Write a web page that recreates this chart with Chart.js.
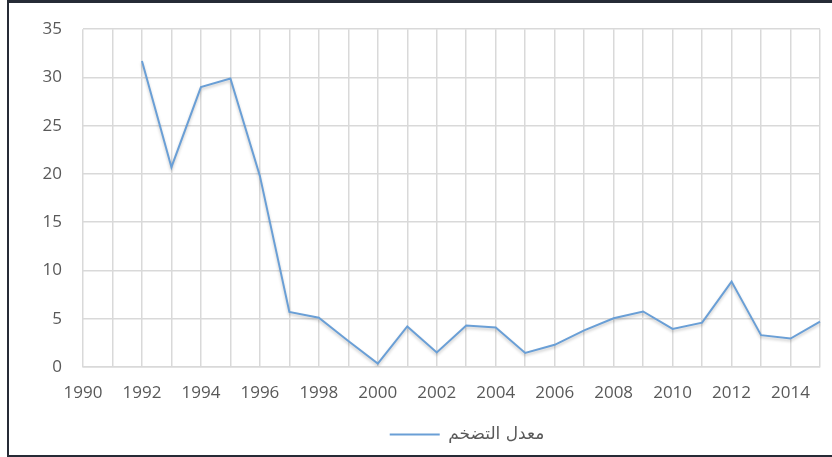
<!DOCTYPE html>
<html>
<head>
<meta charset="utf-8">
<script src="https://cdn.jsdelivr.net/npm/chart.js@4.4.1/dist/chart.umd.min.js"></script>
<style>
  html, body { margin: 0; padding: 0; background: #fff; overflow: hidden; }
  .frame {
    position: absolute; left: 7px; top: 0px; width: 940px; height: 452px;
    border: 2px solid #262b36; border-top-width: 3px; border-bottom-width: 3px;
  }
  .box { position: absolute; left: 9px; top: -2px; width: 916px; height: 456px; }
</style>
</head>
<body>
<div class="frame"></div>
<div class="box"><canvas id="inflation"></canvas></div>
<script>
const years = ['1990','1991','1992','1993','1994','1995','1996','1997','1998','1999','2000','2001','2002',
  '2003','2004','2005','2006','2007','2008','2009','2010','2011','2012','2013','2014','2015'];
const inflation = [null, null, 31.7, 20.7, 29.0, 29.9, 19.8, 5.7, 5.1, 2.7, 0.35, 4.2, 1.5,
  4.3, 4.1, 1.45, 2.3, 3.8, 5.05, 5.75, 3.95, 4.6, 8.85, 3.3, 2.95, 4.7];
const seriesName = 'معدل التضخم';

const lineColor = '#6a9fd6';
const textColor = '#595959';

// soft drop shadow under the line
const lineShadow = {
  id: 'lineShadow',
  beforeDatasetsDraw(chart) {
    const c = chart.ctx;
    c.save();
    c.shadowColor = 'rgba(0,0,0,0.22)';
    c.shadowBlur = 3;
    c.shadowOffsetY = 2;
  },
  afterDatasetsDraw(chart) {
    chart.ctx.restore();
  }
};

const ctx = document.getElementById('inflation');
new Chart(ctx, {
  type: 'line',
  data: {
    labels: years,
    datasets: [{
      label: seriesName,
      data: inflation,
      borderColor: lineColor,
      backgroundColor: lineColor,
      borderWidth: 2,
      pointRadius: 0,
      tension: 0
    }]
  },
  options: {
    responsive: true,
    maintainAspectRatio: false,
    animation: false,
    layout: { padding: { top: 15, right: 0, left: 0, bottom: 1 } },
    scales: {
      x: {
        offset: false,
        grid: { color: '#d9d9d9', lineWidth: 1.5, drawTicks: false },
        border: { color: '#d9d9d9', width: 1.5 },
        ticks: {
          autoSkip: false,
          maxRotation: 0,
          padding: 16,
          color: textColor,
          font: { family: 'Open Sans', size: 17 },
          callback: function (v, i) { return i % 2 === 0 ? years[i] : ''; }
        },
        afterFit: function (scale) { scale.height = 47; }
      },
      y: {
        min: 0,
        max: 35,
        grid: { color: '#d9d9d9', lineWidth: 1.5, drawTicks: false },
        border: { display: false },
        ticks: {
          stepSize: 5,
          padding: 21,
          color: textColor,
          font: { family: 'Open Sans', size: 17 }
        },
        afterFit: function (scale) { scale.width = 74; }
      },
      // empty spacer on the right so the plot stops short of the legend's full width
      spacer: {
        type: 'linear',
        position: 'right',
        grid: { display: false },
        border: { display: false },
        ticks: { display: false },
        afterFit: function (scale) { scale.width = 105; }
      }
    },
    plugins: {
      legend: {
        position: 'bottom',
        labels: {
          usePointStyle: true,
          pointStyle: 'line',
          pointStyleWidth: 50,
          color: textColor,
          padding: 12,
          font: { family: 'DejaVu Sans', size: 17 }
        }
      },
      tooltip: { enabled: false }
    }
  },
  plugins: [lineShadow]
});
</script>
</body>
</html>
